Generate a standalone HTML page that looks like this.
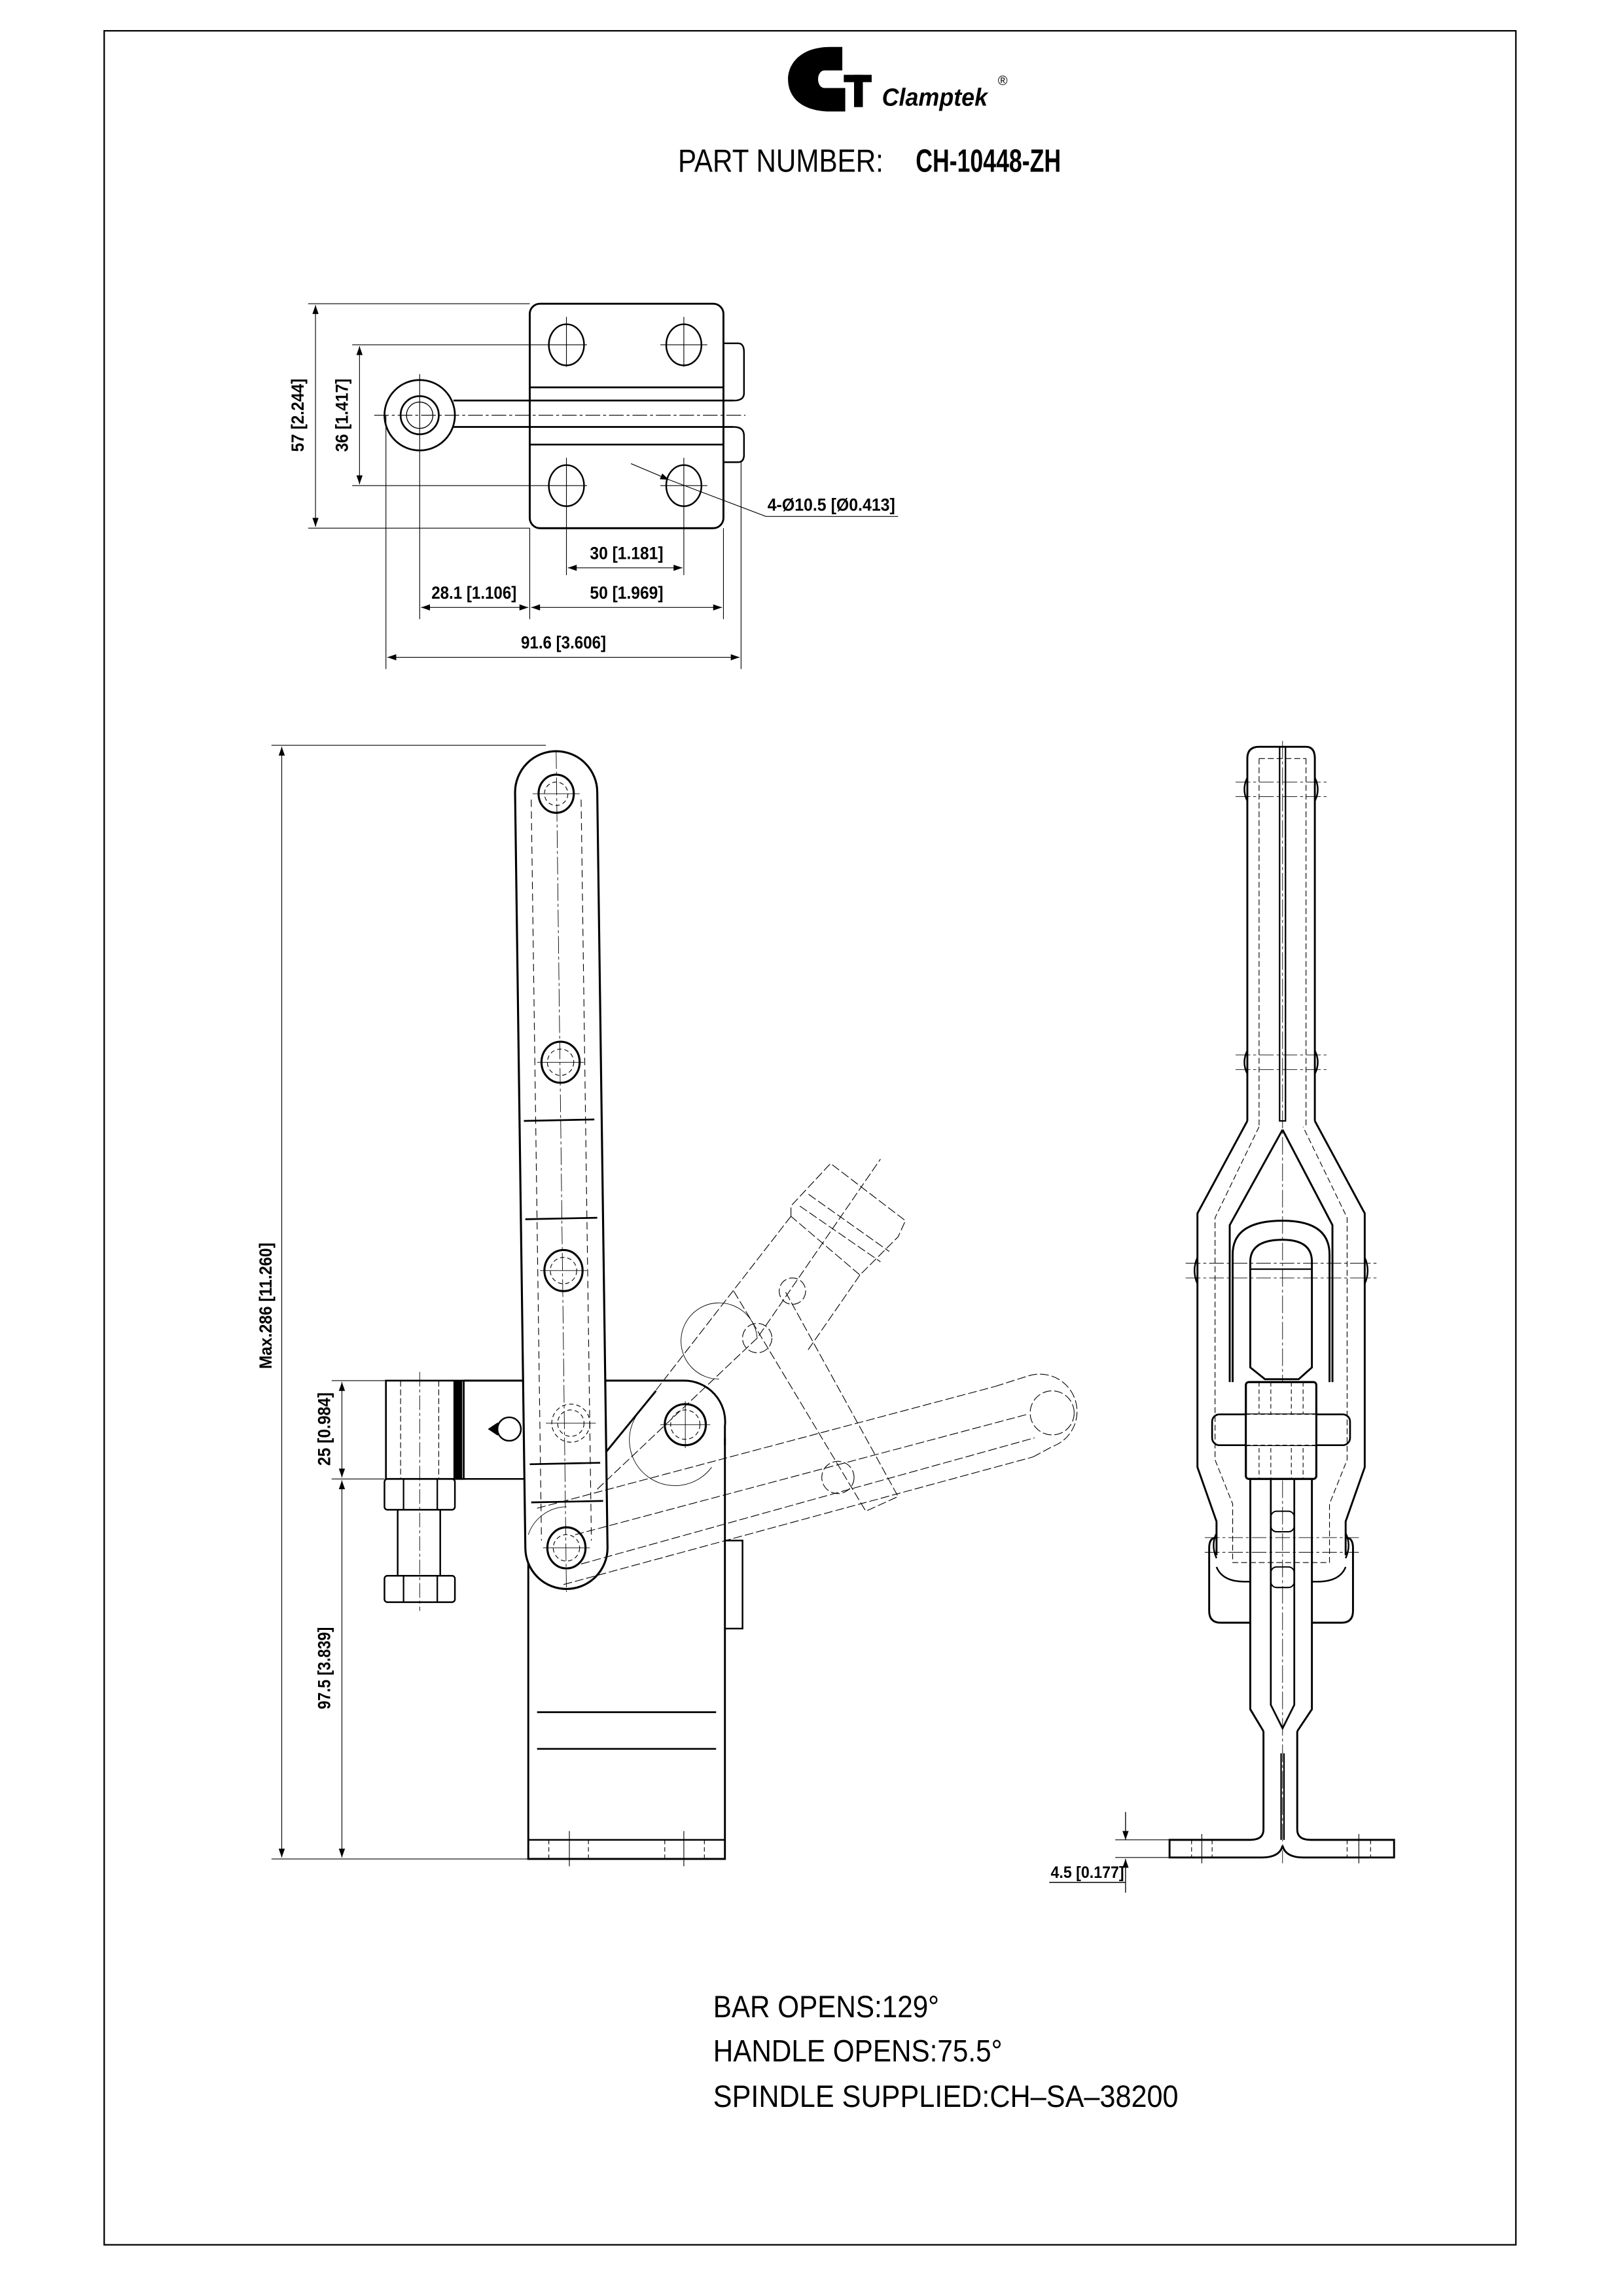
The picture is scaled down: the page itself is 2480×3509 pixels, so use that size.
<!DOCTYPE html>
<html><head><meta charset="utf-8"><style>
html,body{margin:0;padding:0;background:#fff}
svg{display:block}
text{font-family:"Liberation Sans",sans-serif;fill:#000}
</style></head><body>
<svg width="2480" height="3509" viewBox="0 0 1106 1564.9" preserveAspectRatio="none" xmlns="http://www.w3.org/2000/svg">
<defs>
<marker id="a" viewBox="0 0 10 10" refX="10" refY="5" markerWidth="9" markerHeight="6" orient="auto-start-reverse" markerUnits="userSpaceOnUse"><path d="M0,1.5 L10,5 L0,8.5 Z" fill="#000"/></marker>
</defs>
<rect x="71" y="21" width="962" height="1509" fill="none" stroke="#000" stroke-width="1"/>

<!-- logo -->
<path d="M566,32 C545,32 537,44 537,54 C537,66 546,76 566,76 L576,76 L576,60 L562,60 C556,60 556,48 562,48 L574,48 L574,32 Z" fill="#000"/>
<rect x="575" y="51" width="19" height="5" fill="#000"/>
<rect x="582" y="51" width="6" height="22" fill="#000"/>
<text x="601" y="72" font-size="17" font-weight="bold" font-style="italic" font-family="Liberation Serif,serif" textLength="72" lengthAdjust="spacingAndGlyphs">Clamptek</text>
<text x="680" y="58" font-size="9">®</text>
<text x="462" y="117" font-size="22" textLength="140" lengthAdjust="spacingAndGlyphs">PART  NUMBER:</text>
<text x="624" y="117" font-size="22" font-weight="bold" textLength="99" lengthAdjust="spacingAndGlyphs">CH-10448-ZH</text>

<!-- TOP VIEW -->
<g fill="none" stroke="#000">
<rect x="361" y="207" width="132" height="153" rx="7" stroke-width="1.3"/>
<path d="M493,234 H503 Q507,234 507,240 V268 Q507,273 500,273 M500,291 Q507,291 507,297 V310 Q507,315 503,315 H493" stroke-width="1.1"/>
<line x1="361" y1="264" x2="493" y2="264" stroke-width="1.2"/>
<line x1="361" y1="303" x2="493" y2="303" stroke-width="1.2"/>
<path d="M309,273 H500 M309,291 H500" stroke-width="1.2"/>
<circle cx="286" cy="283" r="24" stroke-width="1.2"/>
<circle cx="286" cy="283" r="13" stroke-width="1.2"/>
<circle cx="286" cy="283" r="9" stroke-width="0.6"/>
<line x1="255" y1="283" x2="508" y2="283" stroke-width="0.5" stroke-dasharray="10 2 2 2"/>
<ellipse cx="386" cy="235" rx="12" ry="14" stroke-width="1.1"/>
<ellipse cx="466" cy="235" rx="12" ry="14" stroke-width="1.1"/>
<ellipse cx="386" cy="331" rx="12" ry="14" stroke-width="1.1"/>
<ellipse cx="466" cy="331" rx="12" ry="14" stroke-width="1.1"/>
<g stroke-width="0.5">
<path d="M240,235 H400 M450,235 H482 M240,331 H400 M450,331 H482 M210,207 H361 M210,360 H361"/>
<path d="M386,216 V250 M466,216 V250 M386,312 V346 M466,312 V346"/>
<path d="M263,283 V456 M286,255 V422 M361,360 V422 M386,346 V392 M466,346 V392 M493,360 V422 M505,315 V456"/>
<line x1="215" y1="208" x2="215" y2="359" marker-start="url(#a)" marker-end="url(#a)"/>
<line x1="245" y1="236" x2="245" y2="330" marker-start="url(#a)" marker-end="url(#a)"/>
<line x1="387" y1="387" x2="465" y2="387" marker-start="url(#a)" marker-end="url(#a)"/>
<line x1="287" y1="414" x2="360" y2="414" marker-start="url(#a)" marker-end="url(#a)"/>
<line x1="362" y1="414" x2="492" y2="414" marker-start="url(#a)" marker-end="url(#a)"/>
<line x1="264" y1="448" x2="504" y2="448" marker-start="url(#a)" marker-end="url(#a)"/>
<line x1="430" y1="316" x2="456" y2="327" marker-end="url(#a)"/>
<path d="M456,327 L522,352 H612"/>
</g>
</g>
<g font-size="12" font-weight="bold">
<text transform="translate(207,283) rotate(-90)" text-anchor="middle" textLength="50" lengthAdjust="spacingAndGlyphs">57 [2.244]</text>
<text transform="translate(237,283) rotate(-90)" text-anchor="middle" textLength="50" lengthAdjust="spacingAndGlyphs">36 [1.417]</text>
<text x="402" y="381" textLength="50" lengthAdjust="spacingAndGlyphs">30 [1.181]</text>
<text x="294" y="408" textLength="58" lengthAdjust="spacingAndGlyphs">28.1 [1.106]</text>
<text x="402" y="408" textLength="50" lengthAdjust="spacingAndGlyphs">50 [1.969]</text>
<text x="355" y="442" textLength="58" lengthAdjust="spacingAndGlyphs">91.6 [3.606]</text>
<text x="523" y="348" textLength="87" lengthAdjust="spacingAndGlyphs">4-Ø10.5 [Ø0.413]</text>
</g>

<!-- SIDE VIEW -->
<g fill="none" stroke="#000">
<g stroke-width="0.5">
<path d="M185,508 H372 M185,1267 H360 M226,941 H300 M226,1008 H262"/>
<line x1="192" y1="509" x2="192" y2="1266" marker-start="url(#a)" marker-end="url(#a)"/>
<line x1="233" y1="942" x2="233" y2="1007" marker-start="url(#a)" marker-end="url(#a)"/>
<line x1="233" y1="1009" x2="233" y2="1266" marker-start="url(#a)" marker-end="url(#a)"/>
</g>
<!-- body -->
<path d="M360,1008 V1267 H494 V980" stroke-width="1.3"/>
<line x1="360" y1="1254" x2="494" y2="1254" stroke-width="1.1"/>
<path d="M374,1254 V1267 M401,1254 V1267 M453,1254 V1267 M480,1254 V1267" stroke-width="0.5" stroke-dasharray="3 2"/>
<path d="M388,1248 V1272 M466,1248 V1272" stroke-width="0.5"/>
<path d="M366,1167 H488 M366,1192 H488" stroke-width="1.2"/>
<rect x="494" y="1050" width="12" height="60" stroke-width="1.1"/>
<!-- top arm -->
<path d="M316,941 H466 A28,28 0 0 1 494,972 V985" stroke-width="1.3"/>
<path d="M447,948 L407,997" stroke-width="1.3"/>
<path d="M316,1008 H360" stroke-width="1.1"/>
<circle cx="467" cy="971" r="14" stroke-width="1.4"/>
<circle cx="467" cy="971" r="10" stroke-width="0.5" stroke-dasharray="3 2"/>
<path d="M450,971 H484 M467,955 V987" stroke-width="0.4"/>
<!-- spindle holder -->
<rect x="263" y="941" width="53" height="67" stroke-width="1.2"/>
<rect x="309" y="941" width="6" height="67" fill="#000" stroke="none"/>
<path d="M273,941 V1008 M299,941 V1008" stroke-width="0.5" stroke-dasharray="4 2"/>
<path d="M286,935 V1098" stroke-width="0.4" stroke-dasharray="10 2 2 2"/>
<rect x="262" y="1008" width="48" height="21" rx="2" stroke-width="1.1"/>
<path d="M275,1008 V1029 M298,1008 V1029" stroke-width="1"/>
<path d="M271,1029 V1074 M300,1029 V1074" stroke-width="1.1"/>
<rect x="262" y="1074" width="48" height="18" rx="2" stroke-width="1.1"/>
<path d="M275,1074 V1092 M298,1074 V1092" stroke-width="1"/>
<circle cx="347" cy="974" r="8" stroke-width="1.1"/>
<path d="M339,970 L333,974 L339,978 Z" fill="#000" stroke-width="0.6"/>
<!-- handle -->
<path d="M351,540 A28,28 0 0 1 407,540 L414,1055 A28,28 0 0 1 358,1055 Z" stroke-width="1.4" fill="#fff"/>
<path d="M362,545 L369,1050 M396,545 L403,1050" stroke-width="0.5" stroke-dasharray="5 3"/>
<path d="M379,512 L386,1085" stroke-width="0.4" stroke-dasharray="12 2 2 2"/>
<path d="M357,764 L405,763 M358,831 L407,830 M361,998 L409,997 M362,1024 L411,1023" stroke-width="1.2"/>
<g stroke-width="1.4"><ellipse cx="379" cy="541" rx="12" ry="13"/><ellipse cx="382" cy="724" rx="13" ry="14"/><ellipse cx="384" cy="866" rx="13" ry="14"/><ellipse cx="386" cy="1055" rx="13" ry="14"/></g>
<g stroke-width="0.5" stroke-dasharray="3 2"><circle cx="379" cy="541" r="8"/><circle cx="382" cy="724" r="9"/><circle cx="384" cy="866" r="9"/><circle cx="389" cy="970" r="13"/><circle cx="389" cy="970" r="9"/><circle cx="386" cy="1055" r="9"/></g>
<path d="M363,541 H395 M366,724 H398 M368,866 H400 M372,970 H406 M370,1055 H402" stroke-width="0.4"/>
<!-- phantom positions -->
<g stroke-width="0.5" stroke-dasharray="6 2">
<path d="M539,829 L435,963 M586,869 L550,921"/>
<path d="M539,829 L539,822 L566,793 L617,832 L612,843 L586,869 Z"/>
<path d="M545,822 L600,860 M551,814 L606,853"/>
<path d="M366,1028 L678,945 M384,1080 L704,993"/>
<path d="M392,1046 L700,964 M396,1066 L705,980"/>
<path d="M678,945 L700,938 A23,23 0 0 1 717,986 L704,993"/>
<circle cx="717" cy="963" r="15"/>
<circle cx="516" cy="912" r="10"/>
<circle cx="540" cy="880" r="9"/>
<path d="M500,880 L590,1030 L612,1020 L535,880"/>
<circle cx="571" cy="1007" r="11"/>
<path d="M407,1015 L516,912 L600,790"/>
</g>
<path d="M516,912 A26,26 0 1 0 490,940" stroke-width="0.4"/>
<path d="M435,963 A30,30 0 0 0 485,1000" stroke-width="0.4"/>
<path d="M360,1046 A28,28 0 0 1 386,1027" stroke-width="0.4"/>
</g>
<g font-size="12" font-weight="bold">
<text transform="translate(185,890) rotate(-90)" text-anchor="middle" textLength="86" lengthAdjust="spacingAndGlyphs">Max.286 [11.260]</text>
<text transform="translate(225,974) rotate(-90)" text-anchor="middle" textLength="50" lengthAdjust="spacingAndGlyphs">25 [0.984]</text>
<text transform="translate(225,1137) rotate(-90)" text-anchor="middle" textLength="56" lengthAdjust="spacingAndGlyphs">97.5 [3.839]</text>
</g>

<!-- FRONT VIEW -->
<g fill="none" stroke="#000">
<path d="M874,505 V1270" stroke-width="0.4" stroke-dasharray="12 2 2 2"/>
<!-- handle outer -->
<path d="M850,764 V517 Q850,509 858,509 H890 Q896,509 896,517 V764" stroke-width="1.3"/>
<path d="M872,509 V764 L876,764 V509" stroke-width="1"/>
<path d="M858,517 H890 M858,517 V768 M890,517 V768" stroke-width="0.5" stroke-dasharray="4 2"/>
<path d="M850,764 L816,827 V1000 L829,1037 V1060 M896,764 L930,827 V1000 L917,1037 V1060" stroke-width="1.3"/>
<path d="M858,768 L828,830 V995 L840,1025 V1065 H906 V1025 L918,995 V830 L888,768" stroke-width="0.5" stroke-dasharray="4 2"/>
<path d="M874,770 L838,835 V942 M874,770 L908,835 V942" stroke-width="1.3"/>
<!-- clevis -->
<path d="M840,942 V855 Q840,832 874,832 Q906,832 906,855 V942" stroke-width="1.3"/>
<path d="M852,932 V860 Q852,845 874,845 Q894,845 894,860 V932 L885,940 H862 Z" stroke-width="1.3"/>
<line x1="852" y1="865" x2="894" y2="865" stroke-width="1"/>
<!-- bracket -->
<path d="M829,1048 Q824,1048 824,1055 V1098 Q824,1106 832,1106 H852 M917,1048 Q922,1048 922,1055 V1098 Q922,1106 914,1106 H894" stroke-width="1.3"/>
<path d="M829,1068 Q833,1078 848,1078 H852 M917,1068 Q913,1078 898,1078 H894" stroke-width="1.1"/>
<!-- pins caps -->
<g stroke-width="1.1">
<path d="M850,530 Q846,538 850,546 M896,530 Q900,538 896,546"/>
<path d="M850,716 Q846,724 850,732 M896,716 Q900,724 896,732"/>
<path d="M816,857 Q812,866 816,875 M930,857 Q934,866 930,875"/>
<path d="M829,1045 Q825,1053 829,1062 M917,1045 Q921,1053 917,1062"/>
</g>
<path d="M842,533 H904 M842,543 H904 M842,719 H904 M842,729 H904 M808,861 H938 M808,871 H938 M821,1048 H926 M821,1058 H926" stroke-width="0.4" stroke-dasharray="10 2 2 2"/>
<!-- nut block and cross pin -->
<rect x="849" y="942" width="48" height="66" rx="2" stroke-width="1.3" fill="#fff"/>
<path d="M858,942 V1008 M888,942 V1008 M866,942 V1008 M880,942 V1008" stroke-width="0.5" stroke-dasharray="3 2"/>
<rect x="826" y="964" width="94" height="21" rx="5" stroke-width="1.2"/>
<rect x="849" y="964" width="48" height="21" fill="#fff" stroke="none"/>
<path d="M849,964 H897 M849,985 H897" stroke-width="0.5" stroke-dasharray="3 2"/>
<rect x="849" y="942" width="48" height="66" rx="2" stroke-width="1.3"/>
<!-- spindle -->
<path d="M852,1008 V1165 L861,1180 M894,1008 V1165 L884,1180" stroke-width="1.3"/>
<path d="M866,1008 V1162 L874,1178 L882,1162 V1008" stroke-width="1.2"/>
<rect x="866" y="1030" width="16" height="14" rx="4" stroke-width="0.9"/>
<rect x="866" y="1068" width="16" height="14" rx="4" stroke-width="0.9"/>
<path d="M861,1180 V1247 M884,1180 V1247" stroke-width="1.3"/>
<path d="M873,1195 V1254 M875,1195 V1254" stroke-width="1"/>
<!-- foot -->
<path d="M861,1247 Q861,1254 852,1254 H797 V1266 H860 Q872,1266 874,1258 Q876,1266 888,1266 H950 V1254 H893 Q884,1254 884,1247" stroke-width="1.3"/>
<path d="M812,1254 V1266 M826,1254 V1266 M918,1254 V1266 M934,1254 V1266" stroke-width="0.5" stroke-dasharray="3 2"/>
<path d="M819,1250 V1270 M926,1250 V1270" stroke-width="0.5"/>
<path d="M760,1254 H797 M760,1266 H797" stroke-width="0.5"/>
<line x1="767" y1="1235" x2="767" y2="1254" stroke-width="0.6" marker-end="url(#a)"/>
<line x1="767" y1="1290" x2="767" y2="1267" stroke-width="0.6" marker-end="url(#a)"/>
<path d="M715,1283 H767" stroke-width="0.7"/>
</g>
<text x="716" y="1280" font-size="11" font-weight="bold" textLength="50" lengthAdjust="spacingAndGlyphs">4.5 [0.177]</text>

<!-- notes -->
<g font-size="21">
<text x="486" y="1375" textLength="154" lengthAdjust="spacingAndGlyphs">BAR  OPENS:129°</text>
<text x="486" y="1405" textLength="197" lengthAdjust="spacingAndGlyphs">HANDLE  OPENS:75.5°</text>
<text x="486" y="1436" textLength="317" lengthAdjust="spacingAndGlyphs">SPINDLE  SUPPLIED:CH–SA–38200</text>
</g>
</svg>
</body></html>
